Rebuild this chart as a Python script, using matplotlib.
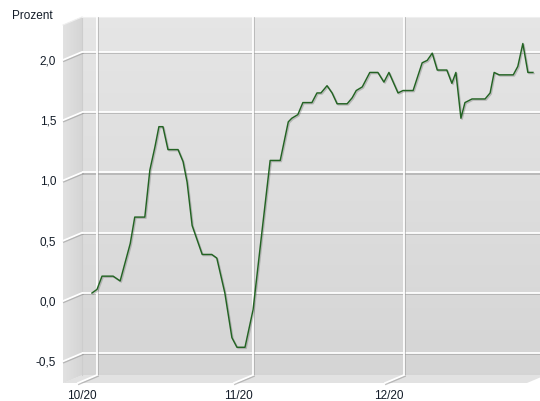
import matplotlib
matplotlib.use('Agg')
import matplotlib.pyplot as plt
import numpy as np
from matplotlib.patches import Polygon
import matplotlib.patheffects as pe
from matplotlib.transforms import ScaledTranslation

# ---- data (days since 1 Oct 2020, percent) ----
days = [-1, 0, 1, 3.2, 4.6, 6.6, 7.5, 9.5, 10.5, 11.5, 12.3, 13.1, 14.1, 16.1,
        17.1, 17.9, 18.9, 20.9, 22.8, 23.8, 25.4, 26.8, 27.8, 29.4, 31, 32.8,
        34.4, 36.4, 38, 38.7, 39.9, 40.9, 42.7, 43.7, 44.5, 45.7, 46.7, 47.7,
        49.7, 50.7, 51.5, 52.7, 54.2, 55.8, 57, 58, 59.8, 60.8, 62.8, 64.6,
        65.6, 66.6, 67.6, 69.5, 70.5, 71.3, 72.3, 73.1, 74.5, 77.1, 78.1, 78.9,
        79.9, 82.7, 83.6, 84.6, 85.6, 86.6]
values = [0.0, 0.03, 0.14, 0.14, 0.10, 0.41, 0.63, 0.63, 1.02, 1.21, 1.38, 1.38,
          1.19, 1.19, 1.09, 0.92, 0.56, 0.32, 0.32, 0.29, 0.0, -0.37, -0.45,
          -0.45, -0.14, 0.52, 1.10, 1.10, 1.42, 1.45, 1.48, 1.58, 1.58, 1.66,
          1.66, 1.72, 1.66, 1.57, 1.57, 1.62, 1.68, 1.71, 1.83, 1.83, 1.75,
          1.83, 1.66, 1.68, 1.68, 1.91, 1.93, 1.99, 1.85, 1.85, 1.74, 1.83,
          1.45, 1.58, 1.61, 1.61, 1.66, 1.83, 1.81, 1.81, 1.88, 2.07, 1.83, 1.83]
month_ticks = [0, 31, 61]
month_labels = ['10/20', '11/20', '12/20']
y_ticks = [-0.5, 0.0, 0.5, 1.0, 1.5, 2.0]
y_labels = ['-0,5', '0,0', '0,5', '1,0', '1,5', '2,0']

W, H = 540, 401
fig = plt.figure(figsize=(W / 100, H / 100), dpi=100)
plt.rcParams['font.family'] = ['Liberation Sans', 'DejaVu Sans']
TXT = '#131c28'

# background decoration axes in pixel coords
bg = fig.add_axes([0, 0, 1, 1], zorder=0)
bg.set_xlim(0, W)
bg.set_ylim(H, 0)
bg.axis('off')

L, T, R, B = 82, 17, 546, 375
DX, DY = -19, 8

# back panel gradient
grad = np.linspace(0, 1, 256)[:, None]
top_c = np.array([0.90, 0.90, 0.90])
bot_c = np.array([0.835, 0.835, 0.835])
img = top_c[None, None, :] * (1 - grad[:, :, None]) + bot_c[None, None, :] * grad[:, :, None]
bg.imshow(img, extent=(L, R, B, T), aspect='auto', zorder=0, interpolation='bilinear')
# left wall
wall = Polygon([(L + DX, T + DY), (L, T), (L, B), (L + DX, B + DY)], closed=True,
               facecolor='#dcdcdc', edgecolor='none', zorder=1)
bg.add_patch(wall)
wimg = np.linspace(0.885, 0.835, 64)[None, :, None] * np.ones((2, 64, 3))
im2 = bg.imshow(wimg, extent=(L + DX, L, B + DY, T), aspect='auto', zorder=1.5,
                interpolation='bilinear')
im2.set_clip_path(wall)
# floor
floor = Polygon([(L, B), (R, B), (R + DX, B + DY), (L + DX, B + DY)], closed=True,
                facecolor='#e2e2e2', edgecolor='none', zorder=1)
bg.add_patch(floor)
bg.plot([L, L], [T, B], color='#cdcdcd', lw=0.8, zorder=2)
bg.plot([L + DX, L], [T + DY, T], color='#efefef', lw=0.8, zorder=2)
bg.plot([L, R], [T, T], color='#efefef', lw=0.8, zorder=2)
bg.set_xlim(0, W)
bg.set_ylim(H, 0)

# main axes
ax = fig.add_axes([L / W, (H - B) / H, (R - L) / W, (B - T) / H], zorder=1)
ax.patch.set_alpha(0)
ax.set_xlim(-2.98, 89.2)
ax.set_ylim(-0.68, 2.29)
for s in ax.spines.values():
    s.set_visible(False)

grid_fx = [pe.SimpleLineShadow(offset=(0.6, -0.8), shadow_color='#9a9a9a', alpha=0.6), pe.Normal()]

def to_px(x, y):
    d = ax.transData.transform((x, y))
    return d[0], H - d[1]

for v in y_ticks:
    ax.axhline(v, color='white', lw=1.3, zorder=1, path_effects=grid_fx)
    px, py = to_px(ax.get_xlim()[0], v)
    bg.plot([L + DX, L], [py + DY, py], color='white', lw=1.3, zorder=3,
            path_effects=grid_fx)
for m in month_ticks:
    ax.axvline(m, color='white', lw=1.3, zorder=1, path_effects=grid_fx)
    px, py = to_px(m, 0)
    bg.plot([px, px + DX], [B, B + DY], color='white', lw=1.3, zorder=3,
            path_effects=grid_fx)

ax.plot(days, values, color='#236323', lw=1.05, zorder=3,
        path_effects=[pe.SimpleLineShadow(offset=(0.8, -0.8), shadow_color='#555555', alpha=0.3),
                      pe.Normal()])

ax.set_yticks(y_ticks, y_labels)
ax.set_xticks(month_ticks, month_labels)
ax.tick_params(axis='y', length=0, pad=18.5, labelsize=8.5, labelcolor=TXT)
ax.tick_params(axis='x', length=0, pad=10.5, labelsize=8.5, labelcolor=TXT)
for lab in ax.get_yticklabels():
    lab.set_transform(lab.get_transform() + ScaledTranslation(0, -8 / 100, fig.dpi_scale_trans))
for lab in ax.get_xticklabels():
    lab.set_transform(lab.get_transform() + ScaledTranslation(-15 / 100, 0, fig.dpi_scale_trans))

fig.text(12 / W, 1 - 16 / H, 'Prozent', ha='left', va='center', fontsize=8.5, color=TXT)

fig.savefig('out.png', dpi=100)
